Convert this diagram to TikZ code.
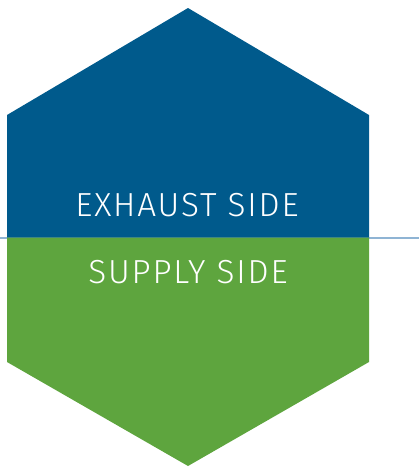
\documentclass[tikz,border=0pt]{standalone}
\usepackage{fontspec}
\newfontfamily\lightfont[LetterSpace=5.5]{Fira Sans Light}
\definecolor{hexblue}{RGB}{0,90,140}
\definecolor{hexgreen}{RGB}{94,165,62}
\definecolor{splitline}{RGB}{143,180,212}
\begin{document}
\begin{tikzpicture}[x=0.75pt,y=-0.75pt,
  lbl/.style={text=white,font=\lightfont\fontsize{25}{30}\selectfont,anchor=base,inner sep=0pt}]
\useasboundingbox (0,0) rectangle (419,468);
\coordinate (L) at (0,237.5);
\coordinate (R) at (419,237.5);
\draw[splitline,line width=1.5pt] (L) -- (R);
\fill[hexblue] (7,237.5) -- (7,115) -- (188,8) -- (369,115) -- (369,237.5) -- cycle;
\fill[hexgreen] (7,237.5) -- (7,362) -- (188,466) -- (369,362) -- (369,237.5) -- cycle;
\node[lbl] (ex) at (187,216) {EXHAUST SIDE};
\node[lbl] (su) at (188,283) {SUPPLY SIDE};
\end{tikzpicture}
\end{document}
